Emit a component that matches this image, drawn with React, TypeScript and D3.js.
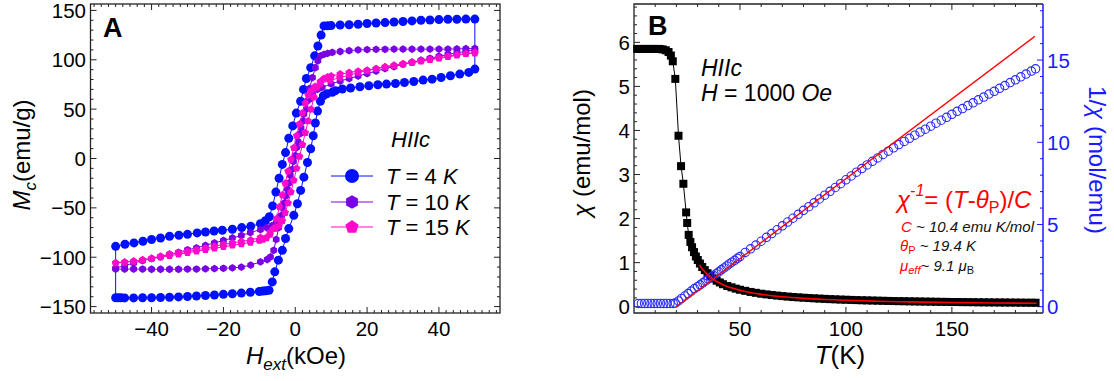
import { useEffect, useRef } from "react"
import * as d3 from "d3"

const W = 1114
const H = 381
const FONT = "'Liberation Sans', Arial, Helvetica, sans-serif"

type Pt = [number, number]

// ---- panel A: M_c (emu/g) vs H_ext (kOe), each loop = down sweep + up sweep
const loop4KDown: Pt[] = [
  [50, 141.2], [47.5, 141.2], [45, 141], [42.5, 141], [40, 140.7], [37.5, 140.3], [35, 140], [32.5, 139.4],
  [30, 138.8], [27.5, 138.3], [25, 137.7], [22.5, 137.2], [20, 136.7], [17.5, 136], [15, 135.5], [12.5, 135.2],
  [10, 134.6], [9, 134.4], [8, 134.3], [7.2, 125], [6.3, 114], [5.4, 104], [4.3, 92], [3.1, 81], [2.3, 70],
  [1.5, 58], [0.3, 46], [-0.7, 33], [-1.8, 20.5], [-2.7, 6], [-3.6, -6], [-4.5, -20], [-5.4, -34], [-6.3, -48],
  [-7.2, -59], [-8.3, -63], [-9.7, -66], [-12.4, -68.7], [-14.9, -70], [-17.5, -71.7], [-20.3, -72.7],
  [-22.6, -73.4], [-25, -74.4], [-27.3, -75.4], [-30, -76.8], [-32.4, -77.8], [-35, -78.8], [-37.5, -80.5],
  [-40, -82.1], [-42.4, -83.8], [-44.9, -85.5], [-47.4, -86.9], [-50, -89],
]
const loop4KUp: Pt[] = [
  [-50, -141], [-49.3, -141], [-48.5, -141], [-47.5, -141.2], [-45, -141.2], [-42.5, -141], [-40, -141],
  [-37.5, -140.8], [-35, -140.5], [-32.5, -140.2], [-30, -139.8], [-27.5, -139.3], [-25, -138.8], [-22.5, -138.3],
  [-20, -137.6], [-17.5, -137], [-15, -136.3], [-12.5, -135.5], [-10, -134.7], [-9, -134.3], [-8.2, -134],
  [-7.3, -133.5], [-6.4, -125], [-5.7, -114.8], [-4.7, -103], [-3.6, -93], [-2.7, -81], [-1.8, -71],
  [-0.4, -57.6], [0.6, -45.8], [1.5, -32.3], [2.4, -18.9], [3.4, -4], [4.3, 9.8], [5, 23], [5.6, 36], [6.2, 48],
  [7, 58], [7.8, 63.5], [8.8, 65.5], [10.3, 67], [11.2, 68.7], [13.1, 70.4], [15.4, 71.4], [18, 72.7],
  [20.5, 73.7], [23, 74.7], [25.4, 75.4], [27.9, 76], [30.4, 77], [33, 78], [35.6, 79.4], [38.1, 80.4],
  [40.6, 82], [43.2, 83.8], [45.8, 85.5], [48.3, 87.2], [50, 90.6],
]
const loop10KDown: Pt[] = [
  [50, 111.5], [47.5, 111.2], [45, 111], [42.5, 110.8], [40, 110.8], [37.5, 110.8], [35, 110.8], [32.5, 110.8],
  [30, 110.8], [27.5, 110.8], [25, 110.6], [22.5, 110.5], [20, 110.3], [17.5, 110], [15, 109.2], [12.5, 108.4],
  [10.3, 107.4], [9, 106.5], [8, 105.5], [7, 104], [6.3, 99], [5.6, 92], [4.8, 82], [4, 71], [3.2, 58],
  [2.4, 45], [1.6, 31], [0.8, 17], [0, 3], [-0.9, -11], [-1.8, -25], [-2.7, -38], [-3.6, -50], [-4.4, -59],
  [-5.3, -65], [-6.5, -68], [-8, -70], [-9.7, -72], [-12.5, -75], [-15, -78], [-17.5, -80.5], [-20, -83],
  [-22.5, -85.5], [-25, -88], [-27.5, -90.5], [-30, -92.5], [-32.5, -95], [-35, -97], [-37.5, -99.5],
  [-40, -101.5], [-42.5, -103.5], [-45, -106], [-47.5, -108.5], [-50, -111],
]
const loop10KUp: Pt[] = [
  [-50, -112], [-47.5, -112], [-45, -112], [-42.5, -112], [-40, -112.2], [-37.5, -112.2], [-35, -112.2],
  [-32.5, -112.2], [-30, -112], [-27.5, -112], [-25, -111.8], [-22.5, -111.5], [-20, -111.2], [-17.5, -110.8],
  [-15, -110], [-12.4, -108], [-9.7, -104.7], [-7.8, -102.3], [-6.9, -99.7], [-6, -93], [-5.3, -82],
  [-4.6, -70], [-3.8, -58], [-3, -45], [-2.2, -31], [-1.4, -17], [-0.5, -3], [0.4, 11], [1.3, 25], [2.2, 38],
  [3.1, 50], [4, 60], [4.9, 66], [6.2, 70], [7.5, 72], [10, 75.5], [12.5, 78.5], [15, 81], [17.5, 83.5],
  [20, 86], [22.5, 88.5], [25, 91], [27.5, 93], [30, 95.5], [32.5, 97.5], [35, 99.5], [37.5, 101.5],
  [40, 103.5], [42.5, 105.5], [45, 107], [47.5, 108.5], [50, 110],
]
const loop15KDown: Pt[] = [
  [50, 107.5], [47.5, 106], [45, 104.5], [42.5, 103], [40, 101.5], [37.5, 100], [35, 98.5], [32.5, 97],
  [30, 95.5], [27.5, 94], [25, 92.5], [22.5, 91], [20, 89.5], [17.5, 88.5], [15, 87], [12.5, 85.5], [10, 83.5],
  [9, 82.5], [8, 81], [7, 78], [6, 72], [5.2, 62], [4.4, 50], [3.6, 38], [2.8, 26], [2, 14], [1.2, 2],
  [0.4, -10], [-0.4, -22], [-1.2, -34], [-2, -45], [-2.8, -55], [-3.6, -63], [-4.5, -68], [-5.5, -71],
  [-7, -75], [-9.7, -80], [-12.4, -82.5], [-15, -84], [-17.5, -85.5], [-20, -87], [-22.5, -89], [-25, -91],
  [-27.5, -92.5], [-30, -94], [-32.5, -95.5], [-35, -97], [-37.5, -99], [-40, -101], [-42.5, -102.5],
  [-45, -104], [-47.5, -105], [-50, -106],
]
const loop15KUp: Pt[] = [
  [-50, -105.5], [-47.5, -105], [-45, -104], [-42.5, -103], [-40, -101.5], [-37.5, -100], [-35, -98.5],
  [-32.5, -97], [-30, -95.5], [-27.5, -94], [-25, -92.5], [-22.5, -91], [-20, -89.5], [-17.5, -88],
  [-15, -86.5], [-12.5, -85], [-10, -83], [-9, -82], [-8, -80.5], [-7, -77], [-6, -71], [-5.2, -61],
  [-4.4, -49], [-3.6, -37], [-2.8, -25], [-2, -13], [-1.2, -1], [-0.4, 11], [0.4, 23], [1.2, 35], [2, 46],
  [2.8, 56], [3.6, 64], [4.5, 69], [5.5, 73], [7, 76], [9.7, 79], [12.4, 82], [15, 84.5], [17.5, 87], [20, 89],
  [22.5, 91], [25, 93], [27.5, 94.5], [30, 96], [32.5, 97.5], [35, 99], [37.5, 100.5], [40, 102], [42.5, 103.5],
  [45, 105], [47.5, 106], [50, 106.5],
]

const loopLabels = ["4", "10", "15"]
const loopColors = ["#0010ff", "#7a00e6", "#ff0acb"]
const loopShapes = ["circle", "hexagon", "pentagon"]

const aXTicks = [-40, -20, 0, 20, 40]
const aYTicks = [-150, -100, -50, 0, 50, 100, 150]

// ---- panel B: chi (emu/mol) and 1/chi (mol/emu) vs T (K)
const chiData: Pt[] = [
  [1.5, 5.85], [3, 5.85], [4.5, 5.85], [6, 5.85], [7.5, 5.85], [9, 5.85], [10.5, 5.85], [12, 5.85], [13.5, 5.84],
  [15, 5.82], [16.3, 5.78], [17.4, 5.7], [18.3, 5.57], [19.5, 5.17], [21, 3.88], [22.2, 3.19], [23.3, 2.79],
  [24.6, 2.14], [25.1, 1.9], [25.8, 1.63], [26.6, 1.47], [27.4, 1.35], [28.3, 1.24], [29.2, 1.14], [30.1, 1.06],
  [31.1, 0.98], [32.2, 0.9], [33.4, 0.83], [34.7, 0.76], [36, 0.7], [37.5, 0.64], [39, 0.59], [40.5, 0.55],
  [42, 0.51], [44, 0.47], [46, 0.44], [48, 0.41], [50, 0.385], [52.5, 0.36], [55, 0.335], [57.5, 0.315],
  [60, 0.295], [62.5, 0.28], [65, 0.265], [67.5, 0.252], [70, 0.24], [72.5, 0.23], [75, 0.22], [77.5, 0.212],
  [80, 0.204], [82.5, 0.197], [85, 0.19], [87.5, 0.184], [90, 0.178], [92.5, 0.172], [95, 0.167], [97.5, 0.162],
  [100, 0.158], [102.5, 0.154], [105, 0.15], [107.5, 0.146], [110, 0.143], [112.5, 0.14], [115, 0.137],
  [117.5, 0.134], [120, 0.131], [122.5, 0.128], [125, 0.126], [127.5, 0.124], [130, 0.122], [132.5, 0.12],
  [135, 0.118], [137.5, 0.116], [140, 0.114], [142.5, 0.112], [145, 0.11], [147.5, 0.109], [150, 0.107],
  [152.5, 0.106], [155, 0.104], [157.5, 0.103], [160, 0.102], [162.5, 0.1], [165, 0.099], [167.5, 0.098],
  [170, 0.097], [172.5, 0.096], [175, 0.095], [177.5, 0.094], [180, 0.093], [182.5, 0.092], [185, 0.091],
  [187.5, 0.09], [189.5, 0.09],
]
const invChiData: Pt[] = [
  [2, 0.2], [3.5, 0.2], [5, 0.2], [6.5, 0.2], [8, 0.2], [9.5, 0.2], [11, 0.2], [12.5, 0.2], [14, 0.2],
  [15.5, 0.2], [17, 0.2], [18.5, 0.2], [19.5, 0.22],
  [21, 0.35], [22.5, 0.5], [24, 0.65], [25.5, 0.8], [27, 0.95], [28.5, 1.1], [30, 1.22], [31.2, 1.33],
  [32.5, 1.45], [33.8, 1.57], [35, 1.68], [36.2, 1.79], [37.5, 1.9], [38.8, 2.01], [40, 2.12], [41.2, 2.24],
  [42.5, 2.36], [43.8, 2.48], [45, 2.6], [46.2, 2.71], [47.5, 2.82], [48.8, 2.94], [50, 3.05], [52.5, 3.3],
  [55, 3.52], [57.5, 3.75], [60, 3.98], [62.5, 4.22], [65, 4.45], [67.5, 4.68], [70, 4.92], [72.5, 5.15],
  [75, 5.38], [77.5, 5.62], [80, 5.86], [82.5, 6.08], [85, 6.32], [87.5, 6.55], [90, 6.78], [92.5, 7.02],
  [95, 7.25], [97.5, 7.48], [100, 7.72], [102.5, 7.95], [105, 8.18], [107.5, 8.4], [110, 8.62], [112.5, 8.84],
  [115, 9.05], [117.5, 9.26], [120, 9.46], [122.5, 9.66], [125, 9.86], [127.5, 10.05], [130, 10.24],
  [132.5, 10.43], [135, 10.62], [137.5, 10.8], [140, 10.98], [142.5, 11.16], [145, 11.34], [147.5, 11.52],
  [150, 11.7], [152.5, 11.88], [155, 12.05], [157.5, 12.23], [160, 12.4], [162.5, 12.58], [165, 12.75],
  [167.5, 12.93], [170, 13.1], [172.5, 13.28], [175, 13.45], [177.5, 13.63], [180, 13.8], [182.5, 13.98],
  [185, 14.15], [187.5, 14.33], [189.5, 14.47],
]
const fitInvChi: Pt[] = [[19.9, 0], [189.2, 16.45]]
const fitChi: Pt[] = [
  [31, 0.95], [32, 0.87], [33.5, 0.79], [35, 0.71], [37, 0.63], [39.5, 0.56], [42, 0.5], [45, 0.44], [48, 0.4],
  [52, 0.35], [56, 0.31], [60, 0.28], [65, 0.25], [70, 0.225], [80, 0.19], [90, 0.165], [100, 0.145],
  [115, 0.125], [130, 0.11], [150, 0.095], [170, 0.085], [190, 0.077],
]

const bXTicks = [50, 100, 150]
const bYTicks = [0, 1, 2, 3, 4, 5, 6]
const bY2Ticks = [0, 5, 10, 15]

type Part = { t: string; i?: boolean; dy?: number; s?: number; fill?: string; b?: boolean }

function rich(g: any, x: number, y: number, parts: Part[], size: number, attrs: Record<string, any> = {}) {
  const text = g.append("text").attr("x", x).attr("y", y).attr("font-family", FONT).attr("font-size", size)
  Object.entries(attrs).forEach(([k, v]) => text.attr(k, v))
  parts.forEach((p) => {
    const ts = text.append("tspan").text(p.t)
    if (p.i) ts.attr("font-style", "italic")
    if (p.b) ts.attr("font-weight", "bold")
    if (p.dy) ts.attr("dy", p.dy)
    if (p.s) ts.attr("font-size", p.s)
    if (p.fill) ts.attr("fill", p.fill)
  })
  return text
}

function polygon(n: number, r: number) {
  const pts = d3.range(n).map((k) => {
    const a = -Math.PI / 2 + (k * 2 * Math.PI) / n
    return [r * Math.cos(a), r * Math.sin(a)]
  })
  return "M" + pts.map((p) => p[0].toFixed(2) + "," + p[1].toFixed(2)).join("L") + "Z"
}

function marker(g: any, shape: string, x: number, y: number, r: number, color: string) {
  if (shape === "circle") {
    g.append("circle").attr("cx", x).attr("cy", y).attr("r", r).attr("fill", color)
  } else {
    g.append("path")
      .attr("d", polygon(shape === "hexagon" ? 6 : 5, r))
      .attr("transform", `translate(${x},${y})`)
      .attr("fill", color)
  }
}

function frameTicks(g: any, x: any, y: any, xMinor: number[], xMajor: number[], yMinor: number[], yMajor: number[], top = true, right = true) {
  const [x0, x1] = x.range()
  const [y0, y1] = y.range()
  const tick = (x1_: number, y1_: number, x2_: number, y2_: number, c = "#222") =>
    g.append("line").attr("x1", x1_).attr("y1", y1_).attr("x2", x2_).attr("y2", y2_).attr("stroke", c).attr("stroke-width", 1)
  xMinor.forEach((v) => {
    const len = xMajor.includes(v) ? 6 : 3
    tick(x(v), y0, x(v), y0 - len)
    if (top) tick(x(v), y1, x(v), y1 + len)
  })
  yMinor.forEach((v) => {
    const len = yMajor.includes(v) ? 6 : 3
    tick(x0, y(v), x0 + len, y(v))
    if (right) tick(x1, y(v), x1 - len, y(v))
  })
}

function drawLoops(svg: any) {
  const x = d3.scaleLinear().domain([-57, 57]).range([90.5, 500])
  const y = d3.scaleLinear().domain([-156.5, 156.5]).range([313, 4])
  const g = svg.append("g")

  frameTicks(
    g, x, y,
    d3.range(-56, 57, 2), [-40, -20, 0, 20, 40],
    d3.range(-150, 151, 10), [-150, -100, -50, 0, 50, 100, 150],
  )
  g.append("rect").attr("x", 90.5).attr("y", 4).attr("width", 409.5).attr("height", 309)
    .attr("fill", "none").attr("stroke", "#222").attr("stroke-width", 1.3)

  const fmt = d3.format("")
  aXTicks.forEach((v) => {
    g.append("text").attr("x", x(v)).attr("y", 336).attr("text-anchor", "middle")
      .attr("font-family", FONT).attr("font-size", 20.5).text(fmt(v))
  })
  aYTicks.forEach((v) => {
    g.append("text").attr("x", 86).attr("y", y(v) + 7.5).attr("text-anchor", "end")
      .attr("font-family", FONT).attr("font-size", 20.5).text(fmt(v))
  })

  const loops = [
    [loop4KDown, loop4KUp],
    [loop10KDown, loop10KUp],
    [loop15KDown, loop15KUp],
  ]
  const sizes = [4.5, 3.9, 4]
  const line = d3.line<Pt>().x((d) => x(d[0])).y((d) => y(d[1]))
  loops.forEach(([down, up], i) => {
    const pts = [...down, ...up, down[0]]
    g.append("path").attr("d", line(pts)).attr("fill", "none").attr("stroke", loopColors[i]).attr("stroke-width", 1)
    ;[...down, ...up].forEach((d) => marker(g, loopShapes[i], x(d[0]), y(d[1]), sizes[i], loopColors[i]))
  })

  // panel letter and annotations
  g.append("text").attr("x", 103).attr("y", 37).attr("font-family", FONT).attr("font-size", 27)
    .attr("font-weight", "bold").text("A")
  rich(g, 391, 147, [{ t: "HIIc", i: true }], 22)

  const legendY = [176, 202, 227]
  const legendR = [7, 6.8, 7]
  loopLabels.forEach((lab, i) => {
    g.append("line").attr("x1", 331).attr("x2", 373).attr("y1", legendY[i]).attr("y2", legendY[i])
      .attr("stroke", loopColors[i]).attr("stroke-width", 1)
    marker(g, loopShapes[i], 352, legendY[i], legendR[i], loopColors[i])
    rich(g, 386, legendY[i] + 8, [{ t: "T", i: true }, { t: " = " + lab + " " }, { t: "K", i: true }], 22)
  })

  // axis titles
  rich(g, 296, 364, [{ t: "H", i: true }, { t: "ext", i: true, dy: 6, s: 17 }, { t: "(kOe)", dy: -6 }], 24, {
    "text-anchor": "middle",
  })
  rich(g, 0, 0, [{ t: "M", i: true }, { t: "c", i: true, dy: 6, s: 17 }, { t: "(emu/g)", dy: -6 }], 24, {
    "text-anchor": "middle",
    transform: "translate(30,155) rotate(-90)",
  })
}

function drawSusceptibility(svg: any) {
  const x = d3.scaleLinear().domain([0, 193]).range([634, 1043])
  const y = d3.scaleLinear().domain([-0.143, 6.87]).range([313, 4])
  const y2 = d3.scaleLinear().domain([-0.383, 18.41]).range([313, 4])
  const g = svg.append("g")
  const blue = "#1a1aff"

  frameTicks(g, x, y, d3.range(10, 191, 10), [50, 100, 150], d3.range(0, 6.81, 0.2).map((v) => +v.toFixed(1)), [0, 1, 2, 3, 4, 5, 6], true, false)
  d3.range(0, 19, 1).forEach((v) => {
    const len = v % 5 === 0 ? 6 : 3
    g.append("line").attr("x1", 1043).attr("x2", 1043 - len).attr("y1", y2(v)).attr("y2", y2(v))
      .attr("stroke", blue).attr("stroke-width", 1)
  })
  g.append("path").attr("d", "M1043,4 L634,4 L634,313 L1043,313")
    .attr("fill", "none").attr("stroke", "#222").attr("stroke-width", 1.3)
  g.append("line").attr("x1", 1043).attr("x2", 1043).attr("y1", 4).attr("y2", 313)
    .attr("stroke", blue).attr("stroke-width", 1.5)

  bXTicks.forEach((v) => {
    g.append("text").attr("x", x(v)).attr("y", 336).attr("text-anchor", "middle")
      .attr("font-family", FONT).attr("font-size", 20.5).text(v)
  })
  bYTicks.forEach((v) => {
    g.append("text").attr("x", 630).attr("y", y(v) + 7.5).attr("text-anchor", "end")
      .attr("font-family", FONT).attr("font-size", 20.5).text(v)
  })
  bY2Ticks.forEach((v) => {
    g.append("text").attr("x", 1047).attr("y", y2(v) + 7.5).attr("text-anchor", "start")
      .attr("font-family", FONT).attr("font-size", 20.5).attr("fill", blue).text(v)
  })

  // chi: black squares joined by a thin line
  const chiLine = d3.line<Pt>().x((d) => x(d[0])).y((d) => y(d[1]))
  g.append("path").attr("d", chiLine(chiData)).attr("fill", "none").attr("stroke", "#000").attr("stroke-width", 1)
  g.selectAll("rect.sq").data(chiData).join("rect").attr("class", "sq")
    .attr("x", (d: Pt) => x(d[0]) - 4).attr("y", (d: Pt) => y(d[1]) - 4)
    .attr("width", 8).attr("height", 8).attr("fill", "#000")

  // 1/chi: hollow blue circles
  g.selectAll("circle.inv").data(invChiData).join("circle").attr("class", "inv")
    .attr("cx", (d: Pt) => x(d[0])).attr("cy", (d: Pt) => y2(d[1])).attr("r", 4.2)
    .attr("fill", "none").attr("stroke", "#2a2aff").attr("stroke-width", 1.1)

  // Curie-Weiss fits
  const invLine = d3.line<Pt>().x((d) => x(d[0])).y((d) => y2(d[1]))
  g.append("path").attr("d", invLine(fitInvChi)).attr("fill", "none").attr("stroke", "#ff0000").attr("stroke-width", 1.4)
  g.append("path").attr("d", d3.line<Pt>().curve(d3.curveMonotoneX).x((d) => x(d[0])).y((d) => y(d[1]))(fitChi))
    .attr("fill", "none").attr("stroke", "#ff0000").attr("stroke-width", 1.6)

  g.append("text").attr("x", 648).attr("y", 35).attr("font-family", FONT).attr("font-size", 27)
    .attr("font-weight", "bold").text("B")
  rich(g, 701, 76, [{ t: "HIIc", i: true }], 23)
  rich(g, 701, 101, [{ t: "H", i: true }, { t: " = 1000 " }, { t: "Oe", i: true }], 23)

  const red = "#ff0000"
  rich(g, 897, 208, [
    { t: "χ", i: true },
    { t: "-1", i: true, dy: -12, s: 16 },
    { t: "= (", dy: 12 },
    { t: "T", i: true },
    { t: "-" },
    { t: "θ", i: true },
    { t: "P", dy: 5, s: 16 },
    { t: ")/", dy: -5 },
    { t: "C", i: true },
  ], 24, { fill: red })

  rich(g, 901, 232, [{ t: "C", i: true, fill: red }, { t: "  ~ 10.4 emu K/mol", i: true, fill: "#111" }], 15)
  rich(g, 900, 251, [
    { t: "θ", i: true, fill: red },
    { t: "P", dy: 3, s: 11, fill: red },
    { t: " ~ 19.4 K", dy: -3, i: true, fill: "#111" },
  ], 15)
  rich(g, 900, 271, [
    { t: "μ", i: true, fill: red },
    { t: "eff", i: true, dy: 3, s: 11, fill: red },
    { t: "~ 9.1 ", dy: -3, i: true, fill: "#111" },
    { t: "μ", i: true, fill: "#111" },
    { t: "B", dy: 3, s: 11, fill: "#111" },
  ], 15)

  rich(g, 840, 364, [{ t: "T", i: true }, { t: "(K)" }], 26, { "text-anchor": "middle" })
  rich(g, 0, 0, [{ t: "χ", i: true }, { t: " (emu/mol)" }], 24, {
    "text-anchor": "middle",
    transform: "translate(590,153) rotate(-90)",
  })
  rich(g, 0, 0, [{ t: "1/" }, { t: "χ", i: true }, { t: " (mol/emu)" }], 24, {
    "text-anchor": "middle",
    fill: blue,
    transform: "translate(1089,160) rotate(90)",
  })
}

export default function App() {
  const svgRef = useRef<SVGSVGElement>(null)

  useEffect(() => {
    if (!svgRef.current) return
    const svg = d3.select(svgRef.current)
    svg.selectAll("*").remove()
    drawLoops(svg)
    drawSusceptibility(svg)
  }, [])

  return (
    <div style={{ position: "absolute", left: 0, top: 0 }}>
      <svg ref={svgRef} width={W} height={H} style={{ display: "block", background: "#fff" }} />
    </div>
  )
}
